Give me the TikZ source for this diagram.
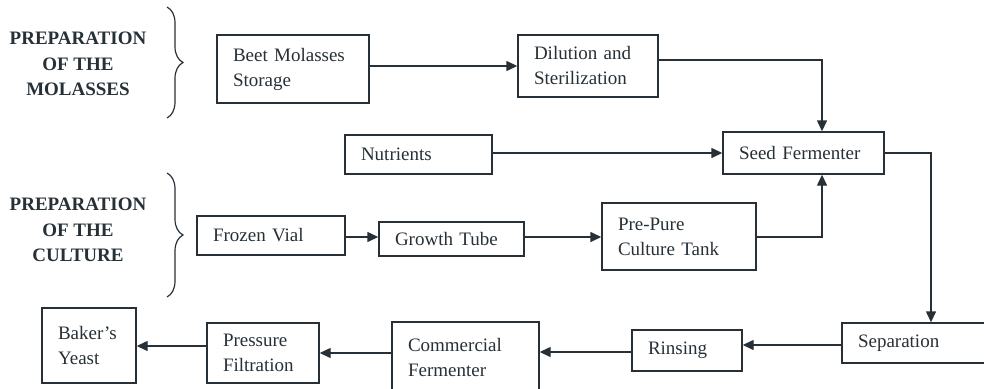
\documentclass[tikz,border=0pt]{standalone}
\usepackage{fontspec}
\setmainfont{Liberation Serif}
\usetikzlibrary{arrows.meta,decorations.pathreplacing}
\definecolor{ink}{RGB}{38,48,54}
\begin{document}
\begin{tikzpicture}[x=1pt,y=-1pt,
  box/.style={draw=ink, line width=1.4pt, rectangle, inner xsep=16pt, inner ysep=0pt, align=left, text=ink, font=\fontsize{19}{25}\selectfont},
  arr/.style={draw=ink, line width=1.4pt, -{Triangle[length=11pt,width=10pt]}},
  lab/.style={align=center, text=ink, font=\bfseries\fontsize{19}{25.5}\selectfont},
  brc/.style={draw=ink, line width=1.2pt, decorate, decoration={brace, amplitude=16pt}}]
\useasboundingbox (0,0) rectangle (984,388);
\clip (0,0) rectangle (984,388);
% labels and braces
\node[lab] (lmol) at (78,64) {PREPARATION\\OF THE\\MOLASSES};
\node[lab] (lcul) at (78,230) {PREPARATION\\OF THE\\CULTURE};
\draw[brc] (167,7) -- (167,118);
\draw[brc] (167,173) -- (167,297);
% boxes
\node[box, text width=120pt, minimum height=68pt] (beet) at (293,69) {Beet Molasses\\Storage};
\node[box, text width=108pt, minimum height=62pt] (dil) at (588,66) {Dilution and\\Sterilization};
\node[box, text width=115pt, minimum height=39pt] (nut) at (418.5,154.5) {Nutrients};
\node[box, text width=129pt, minimum height=42pt] (seed) at (803.5,153) {Seed Fermenter};
\node[box, text width=116pt, minimum height=39pt] (frozen) at (271,235.5) {Frozen Vial};
\node[box, text width=113pt, minimum height=34pt] (growth) at (451.5,239) {Growth Tube};
\node[box, text width=122pt, minimum height=67pt] (pre) at (679,236.5) {Pre-Pure\\Culture Tank};
\node[box, text width=128pt, minimum height=40pt] (sep) at (922,343) {Separation};
\node[box, text width=78pt, minimum height=41pt] (rinse) at (687,350.5) {Rinsing};
\node[box, text width=115pt, minimum height=70pt] (comm) at (465.5,357) {Commercial\\Fermenter};
\node[box, text width=80pt, minimum height=60pt] (press) at (263,353) {Pressure\\Filtration};
\node[box, text width=62pt, minimum height=75pt] (baker) at (89,345.5) {Baker’s\\Yeast};
% connectors
\draw[arr] (beet.east |- dil.west) -- (dil.west);
\draw[arr] ([yshift=6pt]dil.east) -| ([xshift=18.5pt]seed.north);
\draw[arr] (nut.east |- seed.west) -- (seed.west);
\draw[arr] (seed.east) -| ([xshift=9pt]sep.north);
\draw[arr] (frozen.east |- 0,237) -- (growth.west |- 0,237);
\draw[arr] (growth.east |- 0,237) -- (pre.west |- 0,237);
\draw[arr] (pre.east |- 0,237) -| ([xshift=18.5pt]seed.south);
\draw[arr] (sep.west |- 0,345) -- (rinse.east |- 0,345);
\draw[arr] (rinse.west |- 0,352) -- (comm.east |- 0,352);
\draw[arr] (comm.west |- 0,353) -- (press.east |- 0,353);
\draw[arr] (press.west |- 0,346) -- (baker.east |- 0,346);
\end{tikzpicture}
\end{document}
